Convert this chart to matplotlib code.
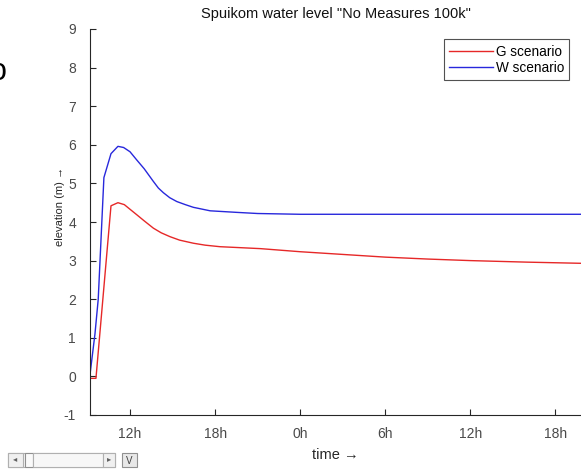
import matplotlib
matplotlib.use('Agg')
import matplotlib.pyplot as plt
from matplotlib.patches import Rectangle

plt.rcParams['font.family'] = ['Liberation Sans', 'DejaVu Sans']
plt.rcParams['axes.unicode_minus'] = False

# hours since 0h of first day
t_g = [9.18, 9.6, 10.66, 11.15, 11.6, 12.0, 12.47, 13.0, 13.65, 14.2, 14.82, 15.5, 16.47, 17.3, 18.35, 19.5, 21.2, 24.0, 27.0, 30.0, 33.0, 36.0, 40.0, 43.8]
lvl_g = [-0.05, -0.05, 4.42, 4.5, 4.45, 4.33, 4.19, 4.03, 3.84, 3.72, 3.62, 3.53, 3.45, 3.40, 3.36, 3.34, 3.31, 3.23, 3.16, 3.09, 3.04, 3.0, 2.96, 2.93]

t_w = [9.18, 9.53, 9.76, 10.16, 10.66, 11.15, 11.55, 12.0, 12.47, 13.0, 13.65, 14.0, 14.35, 14.8, 15.3, 15.9, 16.47, 17.65, 19.5, 21.0, 24.0, 30.0, 36.0, 43.8]
lvl_w = [0.05, 1.1, 2.0, 5.15, 5.77, 5.96, 5.93, 5.82, 5.61, 5.38, 5.05, 4.88, 4.76, 4.63, 4.53, 4.45, 4.38, 4.29, 4.25, 4.22, 4.2, 4.2, 4.2, 4.2]

xticks = [12, 18, 24, 30, 36, 42]
xticklabels = ['12h', '18h', '0h', '6h', '12h', '18h']

W, H = 581, 471
fig = plt.figure(figsize=(W/100, H/100), dpi=100)
ax = fig.add_axes([90/W, 1-415/H, (W-90)/W, (415-29)/H])

ax.plot(t_g, lvl_g, color='#e62828', lw=1.0, label='G scenario')
ax.plot(t_w, lvl_w, color='#2828dc', lw=1.0, label='W scenario')

ax.set_xlim(9.18, 43.8)
ax.set_ylim(-1, 9)
ax.set_yticks(range(-1, 10))
ax.set_xticks(xticks)
ax.set_xticklabels(xticklabels)
ax.tick_params(direction='in', length=4, width=0.8, colors='#262626', labelsize=10,
               labelcolor='#4a4a4a')
ax.tick_params(axis='x', pad=9)
ax.tick_params(axis='y', pad=10)
ax.spines['top'].set_visible(False)
ax.spines['right'].set_visible(False)
for s in ['left', 'bottom']:
    ax.spines[s].set_color('#262626')
    ax.spines[s].set_linewidth(0.8)

ax.set_title('Spuikom water level "No Measures 100k"', fontsize=10.5, color='#111111', pad=8)
ax.set_xlabel('time \u2192', fontsize=10.5, color='#262626', labelpad=5)
ax.set_ylabel('elevation (m) \u2192', fontsize=8, color='#262626')
ax.yaxis.set_label_coords(-0.051, 0.541)

leg = ax.legend(loc='upper right', bbox_to_anchor=(0.982, 0.98), fontsize=9.8,
                frameon=True, fancybox=False, edgecolor='#262626',
                handlelength=3.2, handletextpad=0.2, borderpad=0.4,
                labelspacing=0.12, borderaxespad=0.2)
leg.get_frame().set_linewidth(0.8)

# clipped glyph at the left edge
fig.text(-10/W, 1-72/H, 'o', fontsize=22, color='black', va='center', ha='left')

# scrollbar widget
def px(x, y, w, h):
    return (x/W, 1-(y+h)/H), w/W, h/H

def box(x, y, w, h, fc='#f0f0f0', ec='#a0a0a0'):
    xy, ww, hh = px(x, y, w, h)
    fig.add_artist(Rectangle(xy, ww, hh, transform=fig.transFigure,
                             facecolor=fc, edgecolor=ec, lw=0.8))

box(8, 453, 107, 14, fc='#f5f5f5', ec='#b0b0b0')
box(8, 453, 15, 14, fc='#f0f0f0', ec='#b0b0b0')
box(25, 453, 8, 14, fc='#fafafa', ec='#909090')
box(33, 453, 70, 14, fc='#f7f7f7', ec='#b0b0b0')
box(103, 453, 12, 14, fc='#f0f0f0', ec='#b0b0b0')
box(122, 453, 15, 14, fc='#e8e8e8', ec='#909090')
fig.text(15.5/W, 1-460/H, '\u25c2', fontsize=6, color='#606060', ha='center', va='center')
fig.text(109/W, 1-460/H, '\u25b8', fontsize=6, color='#606060', ha='center', va='center')
fig.text(129.5/W, 1-460.5/H, 'V', fontsize=7, color='#404040', ha='center', va='center')

fig.savefig('out.png', dpi=100)
